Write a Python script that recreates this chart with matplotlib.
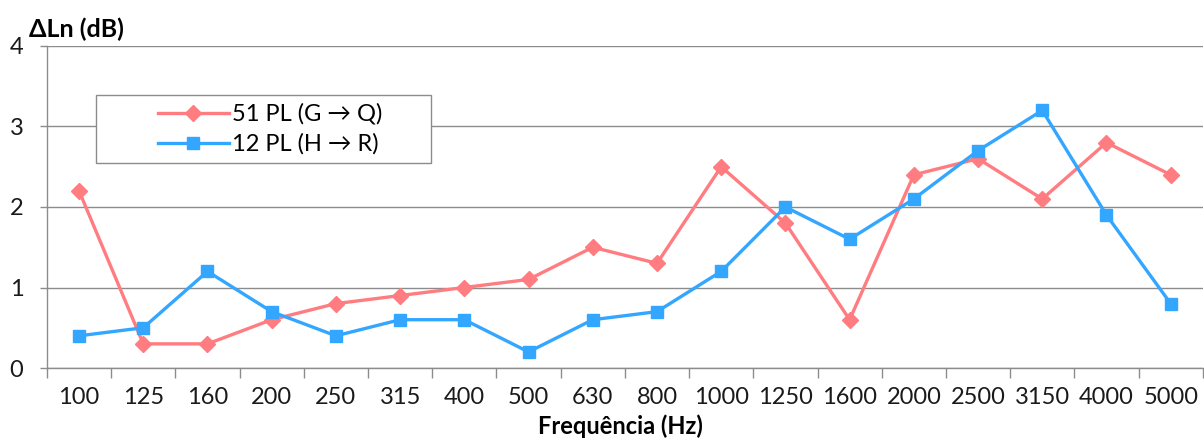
import numpy as np
import matplotlib
matplotlib.use("Agg")
import matplotlib.pyplot as plt
from matplotlib.patches import Rectangle

plt.rcParams['font.family'] = ['Lato', 'DejaVu Sans']

# Data
freqs = ["100", "125", "160", "200", "250", "315", "400", "500", "630", "800",
         "1000", "1250", "1600", "2000", "2500", "3150", "4000", "5000"]
pl51 = [2.2, 0.3, 0.3, 0.6, 0.8, 0.9, 1.0, 1.1, 1.5, 1.3,
        2.5, 1.8, 0.6, 2.4, 2.6, 2.1, 2.8, 2.4]
pl12 = [0.4, 0.5, 1.2, 0.7, 0.4, 0.6, 0.6, 0.2, 0.6, 0.7,
        1.2, 2.0, 1.6, 2.1, 2.7, 3.2, 1.9, 0.8]
labels = ["51 PL (G → Q)", "12 PL (H → R)"]

red = "#FF7C80"
blue = "#33A6FF"
grey = "#8C8C8C"

fig = plt.figure(figsize=(12.04, 4.4), dpi=100)
ax = fig.add_axes([0.039, 0.1636, 0.96, 0.7319])

x = np.arange(len(freqs))
ax.plot(x, pl51, color=red, lw=2.4, marker="D", ms=8, mec=red, label=labels[0])
ax.plot(x, pl12, color=blue, lw=2.4, marker="s", ms=9, mec=blue, label=labels[1])

ax.set_xlim(-0.5, len(freqs) - 0.5)
ax.set_ylim(0, 4)
ax.set_yticks([0, 1, 2, 3, 4])
ax.set_xticks(x)
ax.set_xticklabels(freqs)
ax.set_xticks(np.arange(-0.5, len(freqs)), minor=True)
ax.tick_params(axis="x", which="major", length=0, labelsize=17, pad=14, colors="#1a1a1a")
ax.tick_params(axis="x", which="minor", length=7, width=1, color=grey)
ax.tick_params(axis="y", length=5, width=1, labelsize=17, pad=12, colors="#1a1a1a")
ax.tick_params(axis="y", color=grey)

ax.grid(axis="y", color=grey, lw=1)
ax.set_axisbelow(True)
for s in ["top", "right"]:
    ax.spines[s].set_visible(False)
for s in ["left", "bottom"]:
    ax.spines[s].set_color(grey)
    ax.spines[s].set_linewidth(1)

# legend frame drawn separately so its width matches
ax.add_patch(Rectangle((0.0424, 0.637), 0.29, 0.211, transform=ax.transAxes,
                       facecolor="white", edgecolor=grey, lw=1, zorder=5))
leg = ax.legend(loc="center left", bbox_to_anchor=(0.096, 0.742), fontsize=17,
                frameon=False, labelspacing=0.36, handlelength=3.0,
                handletextpad=0.15, borderaxespad=0, borderpad=0)
leg.set_zorder(6)

fig.text(0.024, 0.933, "ΔLn (dB)", fontsize=18, fontweight="bold", ha="left", va="center")
fig.text(0.515, 0.004, "Frequência (Hz)", fontsize=17, fontweight="bold", ha="center", va="bottom")

fig.savefig("out.png", dpi=100)
